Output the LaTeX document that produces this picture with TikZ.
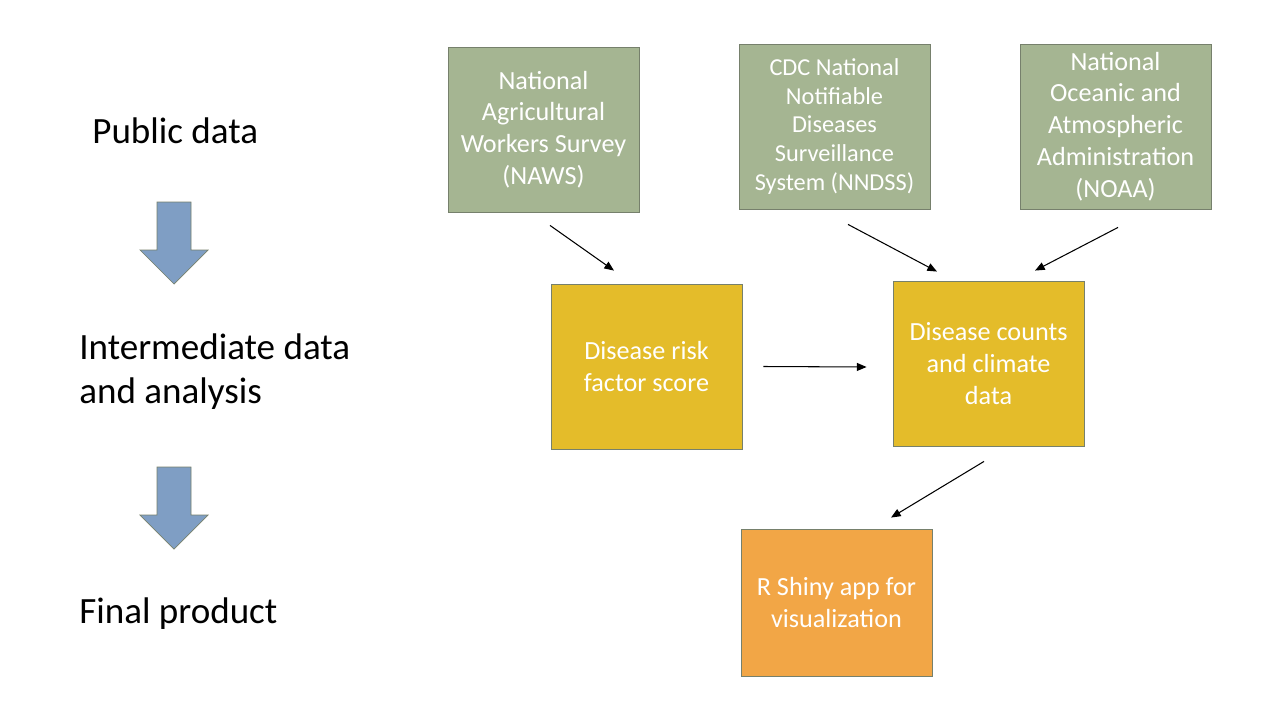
\documentclass[tikz,border=0pt]{standalone}
\usepackage{fontspec}
\setmainfont{Carlito}
\usetikzlibrary{arrows.meta, positioning}
\definecolor{srcgreen}{RGB}{165,181,146}
\definecolor{midgold}{RGB}{228,188,42}
\definecolor{apporange}{RGB}{242,166,70}
\definecolor{stageblue}{RGB}{127,158,196}
\definecolor{boxline}{RGB}{118,128,108}

\tikzset{
    stagearrow/.pic = {
        \filldraw[fill=stageblue, draw=boxline, line width=0.4pt]
            (-17,0) -- (17,0) -- (17,48) -- (34,48) -- (0,82) -- (-34,48) -- (-17,48) -- cycle;
    }
}

\begin{document}
\begin{tikzpicture}[x=0.02cm, y=-0.02cm,
     box/.style = {shape=rectangle, draw=boxline, line width=0.5pt,
         text=white, align=center, inner sep=0pt,
         minimum width=3.82cm, minimum height=3.3cm,
         font=\fontsize{14.9}{18.1}\selectfont},
     stage/.style = {anchor=west, align=left, inner sep=0pt,
         font=\fontsize{21.1}{25}\selectfont},
     conn/.style = {-{Triangle[length=5.5pt, width=4.5pt]}, line width=0.6pt}]
        \useasboundingbox (0,0) rectangle (1280,720);

        % stages on the left
        \node [stage] (public) at (92,131) {Public data};
        \node [stage] (inter) at (79,372) {Intermediate data\\and analysis};
        \node [stage] (final) at (79,614) {Final product};
        \pic at (174,202) {stagearrow};
        \pic at (174,467) {stagearrow};

        % public data sources
        \node [box, fill=srcgreen] (naws) at (543.5,129.5)
            {National\\Agricultural\\Workers Survey\\(NAWS)};
        \node [box, fill=srcgreen, font=\fontsize{13.85}{16.4}\selectfont] (nndss) at (834.5,126.5)
            {CDC National\\Notifiable\\Diseases\\Surveillance\\System (NNDSS)};
        \node [box, fill=srcgreen] (noaa) at (1115.5,126.5)
            {National\\Oceanic and\\Atmospheric\\Administration\\(NOAA)};

        % intermediate data
        \node [box, fill=midgold] (risk) at (646.5,366.5) {Disease risk\\factor score};
        \node [box, fill=midgold] (counts) at (988.5,363.5) {Disease counts\\and climate\\data};

        % final product
        \node [box, fill=apporange, minimum height=2.94cm] (shiny) at (836.5,602.5)
            {R Shiny app for\\visualization};

        \draw [conn] ([shift={(6.5,13)}]naws.south) -- ([shift={(-32.5,-13)}]risk.north);
        \draw [conn] ([shift={(13.5,15)}]nndss.south) -- ([shift={(-51.5,-9)}]counts.north);
        \draw [conn] ([shift={(2.5,18)}]noaa.south) -- ([shift={(46.5,-10)}]counts.north);
        \draw [conn] ([shift={(21,0)}]risk.east) -- ([shift={(-26,3.5)}]counts.west);
        \draw [conn] ([shift={(-4.5,15)}]counts.south) -- ([shift={(54.5,-11)}]shiny.north);
\end{tikzpicture}
\end{document}
